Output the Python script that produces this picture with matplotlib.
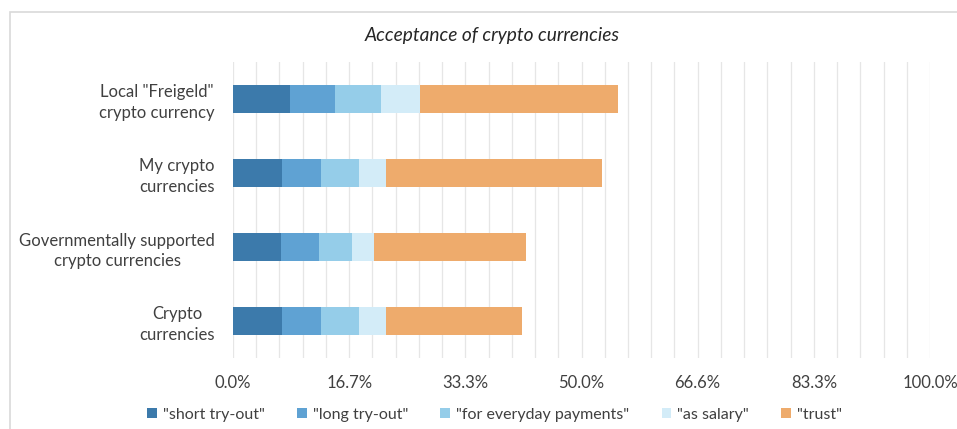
# -*- coding: utf-8 -*-

# 加密货币接受度 - 堆叠横向条形图

import numpy as np
import matplotlib.pyplot as plt
from matplotlib.patches import Rectangle
from matplotlib.ticker import FixedLocator


categories = ['Crypto\ncurrencies',
              'Governmentally supported\ncrypto currencies',
              'My crypto\ncurrencies',
              'Local "Freigeld"\ncrypto currency']

series_names = ['"short try-out"', '"long try-out"', '"for everyday payments"',
                '"as salary"', '"trust"']

# 每个类别的各项比例 (%), 顺序同categories
short_tryout = [7.1, 6.9, 7.1, 8.2]
long_tryout = [5.5, 5.4, 5.5, 6.5]
everyday_payments = [5.5, 4.8, 5.5, 6.5]
as_salary = [3.8, 3.2, 3.8, 5.6]
trust = [19.5, 21.7, 31.0, 28.4]

tick_labels = ['0.0%', '16.7%', '33.3%', '50.0%', '66.6%', '83.3%', '100.0%']

colors = ['#3c7aab', '#5fa2d3', '#95cde9', '#d3ecf8', '#eeab6c']

plt.rcParams['font.family'] = ['Lato', 'DejaVu Sans']

fig = plt.figure(figsize=(9.57, 4.29), dpi=100)
fig.patch.set_facecolor('white')

# 图表外框
fig.patches.append(Rectangle((10 / 957, -0.01), 1.0, 1 - 12 / 429 + 0.01,
                             transform=fig.transFigure, fill=False,
                             edgecolor='#d9d9d9', linewidth=1.2))

ax = fig.add_axes([233 / 957, 1 - 358 / 429, 697 / 957, 296 / 429])

y = np.arange(len(categories))
data = [short_tryout, long_tryout, everyday_payments, as_salary, trust]
left = np.zeros(len(categories))
for vals, name, c in zip(data, series_names, colors):
    ax.barh(y, vals, left=left, height=0.39, color=c, label=name, zorder=3)
    left += np.array(vals)

ax.set_xlim(0, 100)
ax.set_ylim(-0.5, len(categories) - 0.5)
ax.set_xticks([i * 100 / 6 for i in range(7)])
ax.set_xticklabels(tick_labels, fontsize=12, color='#404040')
ax.xaxis.set_minor_locator(FixedLocator([i * 100 / 30 for i in range(31)]))
ax.grid(axis='x', which='both', color='#e6e6e6', linewidth=0.9, zorder=0)
ax.tick_params(axis='x', which='both', length=0, pad=12)
ax.set_yticks(y)
ax.set_yticklabels(categories, fontsize=12, color='#404040', ha='right',
                   multialignment='center', linespacing=1.35)
ax.tick_params(axis='y', length=0, pad=13)
for s in ax.spines.values():
    s.set_visible(False)

fig.text(492 / 957, 1 - 35 / 429, 'Acceptance of crypto currencies',
         ha='center', va='center', fontsize=13.8, style='italic', color='#262626')

fig.legend(loc='center', bbox_to_anchor=(0.517, 1 - 415 / 429), ncol=5,
           frameon=False, fontsize=11.5, handlelength=0.6, handleheight=0.6,
           handletextpad=0.4, columnspacing=2.0, labelcolor='#404040')

fig.savefig('out.png', dpi=100)
